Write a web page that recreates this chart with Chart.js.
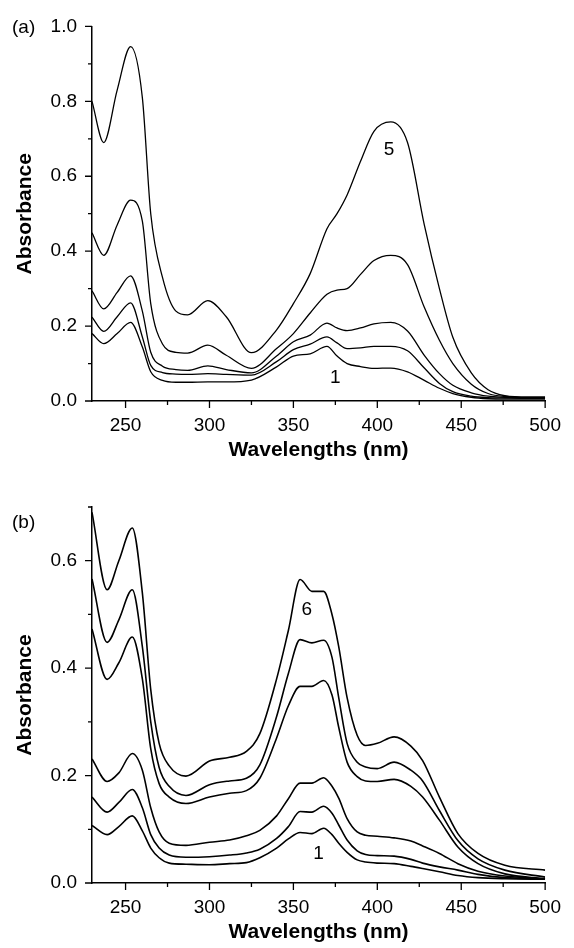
<!DOCTYPE html>
<html>
<head>
<meta charset="utf-8">
<script src="https://cdn.jsdelivr.net/npm/chart.js@4"></script>
<style>
  body { margin: 0; background: #fff; }
  #wrap { position: relative; width: 574px; height: 948px; }
  canvas { position: absolute; left: 0; }
  #ca { top: 0; }
  #cb { top: 474px; }
  .tag { position: absolute; left: 12px; font: 19px "Liberation Sans", Arial, sans-serif; color: #000; line-height: 19px; }
</style>
</head>
<body>
<div id="wrap">
  <canvas id="ca" width="574" height="474"></canvas>
  <canvas id="cb" width="574" height="474"></canvas>
  <div class="tag" style="top:17px">(a)</div>
  <div class="tag" style="top:512px">(b)</div>
</div>
<script>
// panel (a): wavelengths and the five spectra
const wavelengthsA = [230, 237, 245, 253, 260, 265, 272, 280, 287, 299, 310, 325, 340, 350, 360, 370, 376, 382, 390, 398, 408, 418, 428, 437, 445, 456, 466, 476, 490, 500]
const a1 = [0.18, 0.153, 0.18, 0.21, 0.144, 0.078, 0.055, 0.05, 0.05, 0.051, 0.051, 0.056, 0.091, 0.12, 0.126, 0.146, 0.12, 0.10, 0.092, 0.087, 0.088, 0.078, 0.055, 0.034, 0.02, 0.01, 0.006, 0.005, 0.005, 0.005]
const a2 = [0.224, 0.186, 0.225, 0.262, 0.171, 0.095, 0.076, 0.072, 0.071, 0.073, 0.071, 0.069, 0.105, 0.137, 0.152, 0.171, 0.155, 0.14, 0.142, 0.146, 0.146, 0.134, 0.088, 0.047, 0.025, 0.013, 0.009, 0.008, 0.007, 0.007]
const a3 = [0.294, 0.246, 0.29, 0.334, 0.24, 0.13, 0.093, 0.084, 0.082, 0.094, 0.084, 0.075, 0.12, 0.158, 0.176, 0.208, 0.195, 0.188, 0.195, 0.206, 0.21, 0.187, 0.122, 0.073, 0.042, 0.022, 0.013, 0.01, 0.008, 0.008]
const a4 = [0.449, 0.389, 0.47, 0.536, 0.48, 0.26, 0.152, 0.13, 0.128, 0.149, 0.122, 0.087, 0.14, 0.18, 0.235, 0.285, 0.296, 0.30, 0.338, 0.375, 0.389, 0.364, 0.25, 0.162, 0.10, 0.045, 0.02, 0.012, 0.01, 0.01]
const a5 = [0.80, 0.69, 0.83, 0.946, 0.81, 0.50, 0.33, 0.24, 0.23, 0.268, 0.225, 0.129, 0.19, 0.26, 0.34, 0.46, 0.50, 0.55, 0.64, 0.72, 0.745, 0.69, 0.47, 0.30, 0.17, 0.075, 0.03, 0.014, 0.01, 0.01]

// panel (b): wavelengths and the six spectra
const wavelengthsB = [230, 239, 246, 254, 260, 265, 270, 276, 286, 300, 312, 322, 330, 340, 347, 354, 361, 368, 373, 377, 382, 388, 393, 400, 410, 420, 427, 437, 448, 460, 476, 500]
const b1 = [0.107, 0.09, 0.105, 0.125, 0.097, 0.065, 0.047, 0.037, 0.035, 0.034, 0.036, 0.038, 0.047, 0.065, 0.082, 0.094, 0.092, 0.102, 0.09, 0.074, 0.057, 0.043, 0.039, 0.037, 0.036, 0.031, 0.027, 0.021, 0.014, 0.01, 0.008, 0.007]
const b2 = [0.16, 0.132, 0.15, 0.174, 0.14, 0.09, 0.065, 0.052, 0.048, 0.049, 0.052, 0.056, 0.063, 0.083, 0.105, 0.133, 0.132, 0.143, 0.13, 0.108, 0.08, 0.06, 0.053, 0.051, 0.05, 0.044, 0.037, 0.03, 0.024, 0.016, 0.01, 0.008]
const b3 = [0.231, 0.189, 0.205, 0.241, 0.21, 0.14, 0.095, 0.074, 0.07, 0.076, 0.08, 0.088, 0.098, 0.125, 0.157, 0.186, 0.186, 0.196, 0.18, 0.158, 0.12, 0.095, 0.089, 0.087, 0.084, 0.078, 0.069, 0.055, 0.036, 0.022, 0.013, 0.008]
const b4 = [0.473, 0.379, 0.41, 0.458, 0.38, 0.25, 0.185, 0.16, 0.148, 0.16, 0.167, 0.172, 0.195, 0.27, 0.33, 0.366, 0.366, 0.377, 0.35, 0.29, 0.225, 0.198, 0.19, 0.189, 0.193, 0.18, 0.16, 0.117, 0.067, 0.036, 0.017, 0.008]
const b5 = [0.566, 0.448, 0.49, 0.546, 0.44, 0.30, 0.215, 0.18, 0.163, 0.183, 0.19, 0.195, 0.22, 0.31, 0.39, 0.453, 0.447, 0.452, 0.42, 0.345, 0.26, 0.225, 0.216, 0.213, 0.225, 0.21, 0.19, 0.135, 0.079, 0.045, 0.024, 0.011]
const b6 = [0.69, 0.546, 0.60, 0.661, 0.54, 0.36, 0.26, 0.218, 0.199, 0.227, 0.234, 0.245, 0.278, 0.38, 0.47, 0.565, 0.543, 0.543, 0.50, 0.44, 0.345, 0.275, 0.256, 0.26, 0.272, 0.255, 0.228, 0.16, 0.092, 0.055, 0.033, 0.024]

// axis ticks
const xMajor = [250, 300, 350, 400, 450, 500]
const xMinor = [275, 325, 375, 425, 475]
const yMajorA = [0, 0.2, 0.4, 0.6, 0.8, 1.0]
const yMinorA = [0.1, 0.3, 0.5, 0.7, 0.9]
const yMajorB = [0, 0.2, 0.4, 0.6]
const yMinorB = [0.1, 0.3, 0.5, 0.7]

// curve numbers written on the plots
const notesA = [{text: "5", x: 407, y: 0.671}, {text: "1", x: 375, y: 0.061}]
const notesB = [{text: "6", x: 358, y: 0.509}, {text: "1", x: 365, y: 0.055}]

Chart.defaults.font.family = '"Liberation Sans", Arial, sans-serif'
Chart.defaults.font.size = 19
Chart.defaults.color = "#000"

const tickMarks = {
    id: "tickMarks",
    afterDraw(chart, args, opts) {
        const ctx = chart.ctx
        const xs = chart.scales.x, ys = chart.scales.y
        const bottom = chart.chartArea.bottom, left = chart.chartArea.left
        ctx.save()
        ctx.strokeStyle = "#000"
        ctx.lineWidth = 1.3
        ctx.beginPath()
        xMajor.forEach(v => { const p = xs.getPixelForValue(v); ctx.moveTo(p, bottom); ctx.lineTo(p, bottom + 7) })
        xMinor.forEach(v => { const p = xs.getPixelForValue(v); ctx.moveTo(p, bottom); ctx.lineTo(p, bottom + 4) })
        opts.yMajor.forEach(v => { const p = ys.getPixelForValue(v); ctx.moveTo(left, p); ctx.lineTo(left - 7, p) })
        opts.yMinor.forEach(v => { const p = ys.getPixelForValue(v); ctx.moveTo(left, p); ctx.lineTo(left - 4, p) })
        ctx.stroke()
        ctx.fillStyle = "#000"
        ctx.font = '19px "Liberation Sans", Arial, sans-serif'
        ctx.textAlign = "center"
        ctx.textBaseline = "middle"
        opts.notes.forEach(n => ctx.fillText(n.text, xs.getPixelForValue(n.x), ys.getPixelForValue(n.y)))
        ctx.restore()
    }
}

function makeChart(id, xs, series, ymax, yMajor, yMinor, notes, pad, xHeight, lw) {
    return new Chart(document.getElementById(id), {
        type: "line",
        data: {
            datasets: series.map(s => ({
                data: xs.map((w, i) => ({x: w, y: s[i]})),
                borderColor: "#000",
                borderWidth: lw,
                pointRadius: 0,
                fill: false,
                cubicInterpolationMode: "monotone"
            }))
        },
        options: {
            responsive: false,
            animation: false,
            devicePixelRatio: 1,
            layout: {padding: {top: pad.top, right: pad.right, left: 0, bottom: 0}},
            plugins: {
                legend: {display: false},
                tooltip: {enabled: false},
                tickMarks: {yMajor, yMinor, notes}
            },
            scales: {
                x: {
                    type: "linear", min: 230, max: 500,
                    grid: {display: false, drawTicks: false},
                    border: {display: true, color: "#000", width: 1.5},
                    afterBuildTicks: s => { s.ticks = xMajor.map(v => ({value: v})) },
                    afterFit: s => { s.height = xHeight },
                    ticks: {padding: 13, maxRotation: 0, callback: v => String(v)},
                    title: {display: true, text: "Wavelengths (nm)", font: {weight: "bold", size: 21}, padding: {top: 0, bottom: pad.titleBottom}}
                },
                y: {
                    min: 0, max: ymax,
                    grid: {display: false, drawTicks: false},
                    border: {display: true, color: "#000", width: 1.5},
                    afterBuildTicks: s => { s.ticks = yMajor.map(v => ({value: v})) },
                    afterFit: s => { s.width = 92 },
                    ticks: {padding: 15, callback: v => v.toFixed(1)},
                    title: {display: true, text: "Absorbance", font: {weight: "bold", size: 21}, padding: {top: 13, bottom: 0}}
                }
            }
        },
        plugins: [tickMarks]
    })
}

makeChart("ca", wavelengthsA, [a1, a2, a3, a4, a5], 1.0, yMajorA, yMinorA, notesA,
    {top: 24, right: 20, titleBottom: 11}, 73, 1.3)
makeChart("cb", wavelengthsB, [b1, b2, b3, b4, b5, b6], 0.7, yMajorB, yMinorB, notesB,
    {top: 33, right: 19, titleBottom: 3}, 65, 1.6)
</script>
</body>
</html>
